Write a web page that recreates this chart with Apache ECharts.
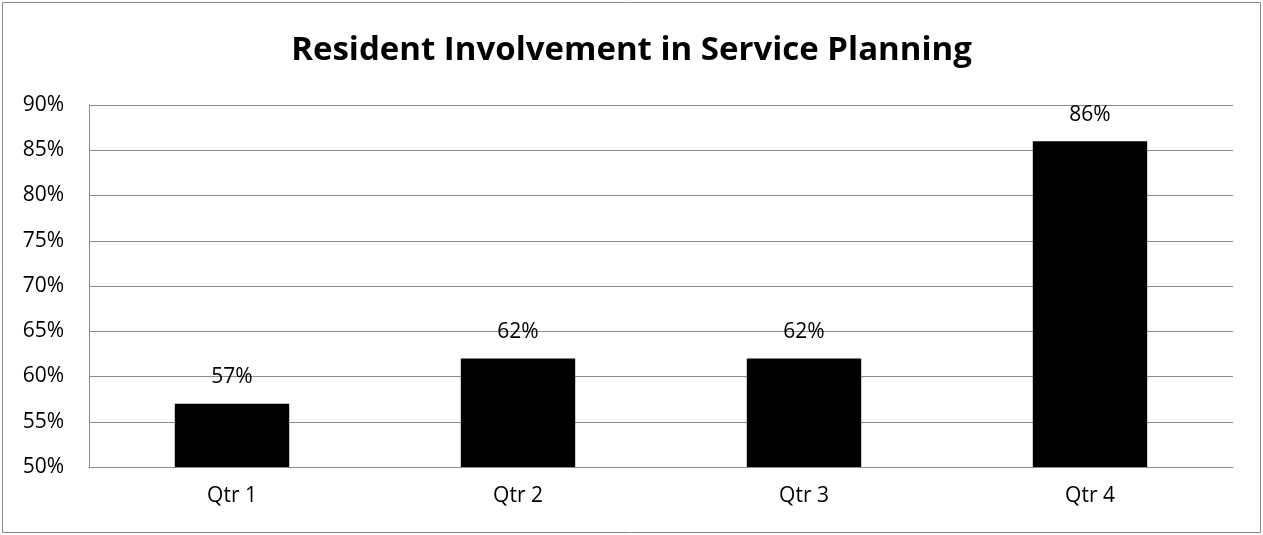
<!DOCTYPE html>
<html>
<head>
<meta charset="utf-8">
<script src="https://cdn.jsdelivr.net/npm/echarts@6/dist/echarts.min.js"></script>
<style>
  html, body { margin: 0; padding: 0; background: #fff; }
  #chart { width: 1263px; height: 535px; }
</style>
</head>
<body>
<div id="chart"></div>
<script>
// quarters and involvement percentages
const quarters = ["Qtr 1", "Qtr 2", "Qtr 3", "Qtr 4"];
const involvement = [57, 62, 62, 86];
const yMin = 50, yMax = 90, yStep = 5;

const chart = echarts.init(document.getElementById("chart"));
const font = "'Open Sans', 'Noto Sans', sans-serif";

chart.setOption({
  animation: false,
  backgroundColor: "#fff",
  textStyle: { fontFamily: font },
  title: {
    text: "Resident Involvement in Service Planning",
    left: "center",
    top: 29,
    textStyle: { fontSize: 33, fontWeight: "bold", color: "#000", fontFamily: font }
  },
  graphic: [
    {
      type: "rect",
      shape: { x: 2.5, y: 2.5, width: 1258, height: 530 },
      style: { fill: "none", stroke: "#888", lineWidth: 1 }
    }
  ],
  grid: { left: 89, right: 30, top: 105, bottom: 68 },
  xAxis: {
    type: "category",
    data: quarters,
    axisLine: { lineStyle: { color: "#8c8c8c", width: 1 } },
    axisTick: { show: false },
    axisLabel: { color: "#000", fontSize: 21, margin: 19 }
  },
  yAxis: {
    type: "value",
    min: yMin,
    max: yMax,
    interval: yStep,
    axisLine: { show: true, lineStyle: { color: "#8c8c8c", width: 1 } },
    axisTick: { show: false },
    splitLine: { lineStyle: { color: "#8c8c8c", width: 1 } },
    axisLabel: { color: "#000", fontSize: 21, margin: 25, formatter: "{value}%" }
  },
  series: [
    {
      type: "bar",
      data: involvement,
      barWidth: "40%",
      itemStyle: { color: "#000" },
      label: {
        show: true,
        position: "top",
        distance: 16,
        color: "#000",
        fontSize: 21,
        formatter: "{c}%"
      }
    }
  ]
});
</script>
</body>
</html>
